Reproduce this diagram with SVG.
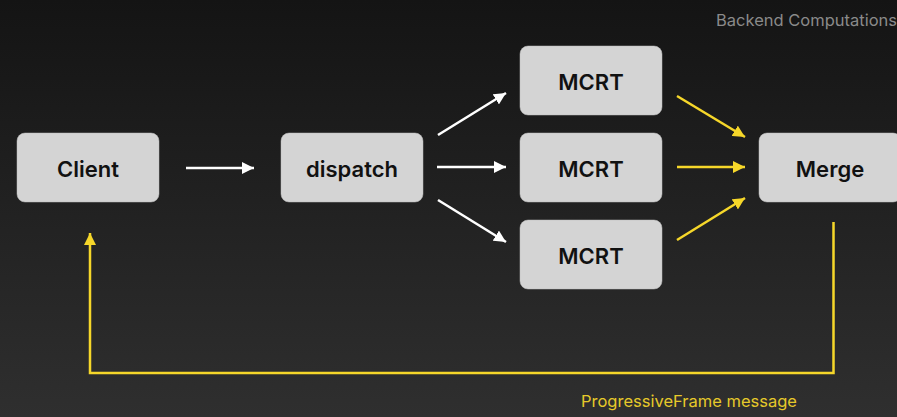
<svg xmlns="http://www.w3.org/2000/svg" width="897" height="417" viewBox="0 0 897 417">
<defs>
<linearGradient id="bg" x1="0" y1="0" x2="0" y2="1">
<stop offset="0" stop-color="#141414"/>
<stop offset="1" stop-color="#2f2f2f"/>
</linearGradient>
<marker id="aw" markerUnits="userSpaceOnUse" markerWidth="14" markerHeight="12" refX="12" refY="6" orient="auto">
<path d="M0,0 L12,6 L0,12 Z" fill="#ffffff"/>
</marker>
<marker id="ay" markerUnits="userSpaceOnUse" markerWidth="14" markerHeight="12" refX="12" refY="6" orient="auto">
<path d="M0,0 L12,6 L0,12 Z" fill="#f6d72a"/>
</marker>
</defs>
<style>
.node rect{fill:#d4d4d4;stroke:#bdbdbd;stroke-width:0.5}
.node text{font-family:Inter,"Liberation Sans",sans-serif;font-size:22px;font-weight:600;fill:#111;text-anchor:middle}
.w{stroke:#ffffff;stroke-width:2.5;fill:none;marker-end:url(#aw)}
.y{stroke:#f6d72a;stroke-width:2.5;fill:none;marker-end:url(#ay)}
.lbl{font-family:Inter,"Liberation Sans",sans-serif;font-size:16.5px}
</style>
<rect width="897" height="417" fill="url(#bg)"/>
<text class="lbl" x="716" y="26" fill="#8a8a8a">Backend Computations</text>
<g id="client" class="node"><rect x="17" y="133" width="142" height="69" rx="8"/><text x="88" y="176.5">Client</text></g>
<g id="dispatch" class="node"><rect x="281" y="133" width="142" height="69" rx="8"/><text x="352" y="176.5">dispatch</text></g>
<g id="mcrt1" class="node"><rect x="520" y="46" width="142" height="69" rx="8"/><text x="591" y="89.5">MCRT</text></g>
<g id="mcrt2" class="node"><rect x="520" y="133" width="142" height="69" rx="8"/><text x="591" y="176.5">MCRT</text></g>
<g id="mcrt3" class="node"><rect x="520" y="220" width="142" height="69" rx="8"/><text x="591" y="263.5">MCRT</text></g>
<g id="merge" class="node"><rect x="759" y="133" width="142" height="69" rx="8"/><text x="830" y="176.5">Merge</text></g>
<g id="connectors">
<line class="w" x1="186" y1="168" x2="254" y2="168"/>
<line class="w" x1="438" y1="135" x2="506" y2="93"/>
<line class="w" x1="437" y1="167" x2="506" y2="167"/>
<line class="w" x1="438" y1="200" x2="506" y2="242"/>
<line class="y" x1="677" y1="96" x2="745" y2="137"/>
<line class="y" x1="677" y1="167" x2="745" y2="167"/>
<line class="y" x1="677" y1="240" x2="745" y2="198"/>
<polyline class="y" points="833.5,222 833.5,373 90,373 90,233"/>
</g>
<text class="lbl" x="581" y="407" fill="#e6c92a">ProgressiveFrame message</text>
</svg>
